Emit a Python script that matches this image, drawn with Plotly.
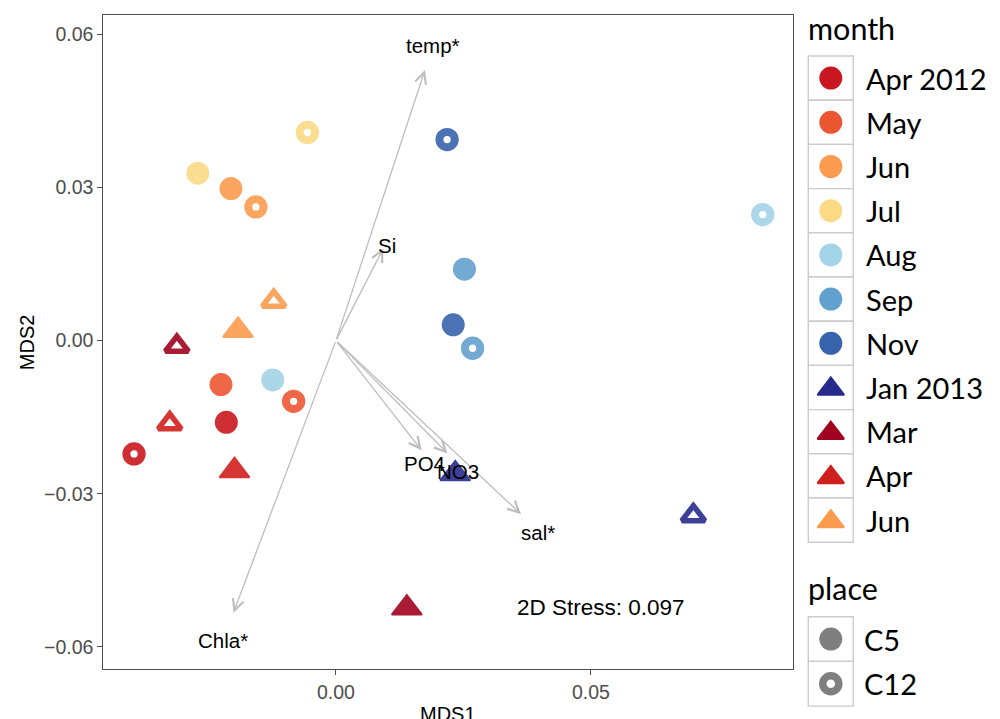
import plotly.graph_objects as go

# ---------------- data ----------------
month_keys = ["Apr 2012", "May 2012", "Jun 2012", "Jul 2012", "Aug 2012", "Sep 2012",
              "Nov 2012", "Jan 2013", "Mar 2013", "Apr 2013", "Jun 2013"]
month_labels = ["Apr 2012", "May", "Jun", "Jul", "Aug", "Sep", "Nov",
                "Jan 2013", "Mar", "Apr", "Jun"]
month_colors = ["#C8171E", "#EC5733", "#FB9B4F", "#FBD985", "#A3D3E6", "#62A0CE",
                "#3762AC", "#262B8B", "#A0021F", "#D0201E", "#FB9B4F"]
month_symbols = ["circle"] * 7 + ["triangle-up"] * 4

place_labels = ["C5", "C12"]

sample_month = ["Apr 2012", "Apr 2012", "May 2012", "May 2012", "Jun 2012", "Jun 2012",
                "Jul 2012", "Jul 2012", "Aug 2012", "Aug 2012", "Sep 2012", "Sep 2012",
                "Nov 2012", "Nov 2012", "Jan 2013", "Jan 2013", "Mar 2013", "Mar 2013",
                "Apr 2013", "Apr 2013", "Jun 2013", "Jun 2013"]
sample_place = ["C5", "C12"] * 11
mds1 = [-0.0215, -0.0396, -0.02255, -0.0083, -0.0206, -0.0157,
        -0.0271, -0.0056, -0.0124, 0.0837, 0.0252, 0.0268,
        0.0230, 0.0218, 0.0234, 0.0701, 0.0139, -0.0312,
        -0.0199, -0.0326, -0.0192, -0.0122]
mds2 = [-0.0160, -0.0222, -0.0086, -0.0119, 0.0298, 0.0262,
        0.0328, 0.0408, -0.0077, 0.0247, 0.0140, -0.0015,
        0.0031, 0.0394, -0.0261, -0.0343, -0.0524, -0.0011,
        -0.0255, -0.0163, 0.0020, 0.0077]

vec_names = ["temp*", "Si", "PO4", "NO3", "sal*", "Chla*"]
vec_origin = [0.0, 0.0]
vec_mds1 = [0.01745, 0.0093, 0.0168, 0.0219, 0.0363, -0.0201]
vec_mds2 = [0.0530, 0.0181, -0.0215, -0.0221, -0.0340, -0.0533]
lab_mds1 = [0.0190, 0.0101, 0.01745, 0.0240, 0.0397, -0.0222]
lab_mds2 = [0.0579, 0.0187, -0.0241, -0.0257, -0.0375, -0.0588]

stress_text = "2D Stress: 0.097"
stress_mds1 = 0.0519
stress_mds2 = -0.0522

x_tickvals = [0.0, 0.05]
x_ticktext = ["0.00", "0.05"]
y_tickvals = [-0.06, -0.03, 0.0, 0.03, 0.06]
y_ticktext = ["\u22120.06", "\u22120.03", "0.00", "0.03", "0.06"]
x_range = [-0.04563, 0.0897]
y_range = [-0.0644, 0.0638]

# ---------------- layout constants ----------------
W, H = 1000, 719
PL, PR, PT, PB = 103.3, 793.3, 15.0, 669.3

AX_FONT = "Liberation Sans, Arial, sans-serif"
LEG_FONT = "Lato, Calibri, sans-serif"


def blend(hex_color, alpha):
    h = hex_color.lstrip("#")
    rgb = [int(h[i:i + 2], 16) for i in (0, 2, 4)]
    mixed = [round(c * alpha + 255 * (1 - alpha)) for c in rgb]
    return "#%02X%02X%02X" % tuple(mixed)


fig = go.Figure()

# ---------------- main points ----------------
for key, col, sym in zip(month_keys, month_colors, month_symbols):
    idx = [i for i, m in enumerate(sample_month) if m == key]
    pc = blend(col, 0.9)
    xs, ys, fills, sizes, lws = [], [], [], [], []
    for i in idx:
        xs.append(mds1[i])
        ys.append(mds2[i])
        hollow = sample_place[i] == "C12"
        if sym == "circle":
            fills.append("white" if hollow else pc)
            sizes.append(15.3 if hollow else 23)
            lws.append(8 if hollow else 0)
        else:
            fills.append("white" if hollow else pc)
            sizes.append(20 if hollow else 26)
            lws.append(5.5 if hollow else 2)
    fig.add_trace(go.Scatter(
        x=xs, y=ys, mode="markers", name=key, showlegend=False,
        marker=dict(symbol=sym, color=fills, size=sizes, opacity=1,
                    line=dict(color=pc, width=lws)),
        xaxis="x", yaxis="y", hoverinfo="skip"))

annotations = []
# ---------------- vectors (arrows) ----------------
for name, vx, vy in zip(vec_names, vec_mds1, vec_mds2):
    annotations.append(dict(
        x=vx, y=vy, ax=vec_origin[0], ay=vec_origin[1], xref="x", yref="y",
        axref="x", ayref="y", text="", showarrow=True, arrowhead=5,
        arrowsize=1.7, arrowwidth=1.3, arrowcolor="#BDBDBD", standoff=0))
for name, lx, ly in zip(vec_names, lab_mds1, lab_mds2):
    annotations.append(dict(
        x=lx, y=ly, xref="x", yref="y", text=name, showarrow=False,
        font=dict(family=AX_FONT, size=20.5, color="black"),
        xanchor="center", yanchor="middle"))

annotations.append(dict(
    x=stress_mds1, y=stress_mds2, xref="x", yref="y", text=stress_text,
    showarrow=False, font=dict(family=AX_FONT, size=22.5, color="black"),
    xanchor="center", yanchor="middle"))

# axis titles
annotations.append(dict(
    x=(PL + PR) / 2 / W, y=1 - 701 / H, xref="paper", yref="paper", text="MDS1",
    showarrow=False, font=dict(family=AX_FONT, size=20, color="black"),
    xanchor="center", yanchor="top"))
annotations.append(dict(
    x=27 / W, y=1 - ((PT + PB) / 2) / H, xref="paper", yref="paper", text="MDS2",
    showarrow=False, textangle=-90, font=dict(family=AX_FONT, size=20, color="black"),
    xanchor="center", yanchor="middle"))

# ---------------- custom legend (pixel-space axis x2/y2) ----------------
LX0, LX1 = 808.3, 853.3
KEY_H = 44.2
KEY_TOP = 56.0
PLACE_TOP = 616.7
KEY_H2 = 44.7
shapes = []

leg_x, leg_y, leg_sym, leg_col, leg_size, leg_lw, leg_lc = [], [], [], [], [], [], []
for i, (lab, col, sym) in enumerate(zip(month_labels, month_colors, month_symbols)):
    top = KEY_TOP + i * KEY_H
    shapes.append(dict(type="rect", xref="x2", yref="y2", x0=LX0, x1=LX1, y0=top,
                       y1=top + KEY_H, line=dict(color="#CCCCCC", width=1.4),
                       fillcolor="white", layer="below"))
    cy = top + KEY_H / 2
    leg_x.append((LX0 + LX1) / 2)
    leg_y.append(cy + (0 if sym == "circle" else 1.5))
    leg_sym.append(sym)
    leg_col.append(col)
    leg_lc.append(col)
    leg_size.append(23 if sym == "circle" else 23)
    leg_lw.append(0 if sym == "circle" else 2)
    annotations.append(dict(x=864, y=cy, xref="x2", yref="y2", text=lab,
                            showarrow=False, xanchor="left", yanchor="middle",
                            font=dict(family=LEG_FONT, size=29, color="black")))

for j, lab in enumerate(place_labels):
    top = PLACE_TOP + j * KEY_H2
    shapes.append(dict(type="rect", xref="x2", yref="y2", x0=LX0, x1=LX1, y0=top,
                       y1=top + KEY_H2, line=dict(color="#CCCCCC", width=1.4),
                       fillcolor="white", layer="below"))
    cy = top + KEY_H2 / 2
    leg_x.append((LX0 + LX1) / 2)
    leg_y.append(cy)
    leg_sym.append("circle")
    hollow = lab == "C12"
    leg_col.append("white" if hollow else "#7F7F7F")
    leg_lc.append("#7F7F7F")
    leg_size.append(16 if hollow else 23)
    leg_lw.append(7.5 if hollow else 0)
    annotations.append(dict(x=862, y=cy, xref="x2", yref="y2", text=lab,
                            showarrow=False, xanchor="left", yanchor="middle",
                            font=dict(family=LEG_FONT, size=29, color="black")))

annotations.append(dict(x=806, y=27.5, xref="x2", yref="y2", text="month",
                        showarrow=False, xanchor="left", yanchor="middle",
                        font=dict(family=LEG_FONT, size=30.5, color="black")))
annotations.append(dict(x=806, y=588, xref="x2", yref="y2", text="place",
                        showarrow=False, xanchor="left", yanchor="middle",
                        font=dict(family=LEG_FONT, size=30.5, color="black")))

fig.add_trace(go.Scatter(
    x=leg_x, y=leg_y, mode="markers", showlegend=False, hoverinfo="skip",
    marker=dict(symbol=leg_sym, color=leg_col, size=leg_size, opacity=1,
                line=dict(color=leg_lc, width=leg_lw)),
    xaxis="x2", yaxis="y2"))

axis_common = dict(showline=True, mirror=True, linecolor="#4D4D4D", linewidth=1,
                   ticks="outside", ticklen=5, tickwidth=1, tickcolor="#4D4D4D",
                   showgrid=False, zeroline=False,
                   tickfont=dict(family=AX_FONT, size=19.5, color="#4D4D4D"))

fig.update_layout(
    width=W, height=H, margin=dict(l=0, r=0, t=0, b=0),
    paper_bgcolor="white", plot_bgcolor="white", showlegend=False,
    xaxis=dict(domain=[PL / W, PR / W], range=x_range, tickvals=x_tickvals,
               ticktext=x_ticktext, anchor="y", **axis_common),
    yaxis=dict(domain=[1 - PB / H, 1 - PT / H], range=y_range, tickvals=y_tickvals,
               ticktext=y_ticktext, anchor="x", **axis_common),
    xaxis2=dict(domain=[0.8, 1.0], range=[800, 1000], visible=False, anchor="y2",
                fixedrange=True),
    yaxis2=dict(domain=[0.0, 1.0], range=[H, 0], visible=False, anchor="x2",
                fixedrange=True),
    shapes=shapes, annotations=annotations,
)

fig.write_html("out.html", config={"displayModeBar": False},
               post_script="document.body.style.margin='0px';"
                           "document.body.style.overflow='hidden';")
